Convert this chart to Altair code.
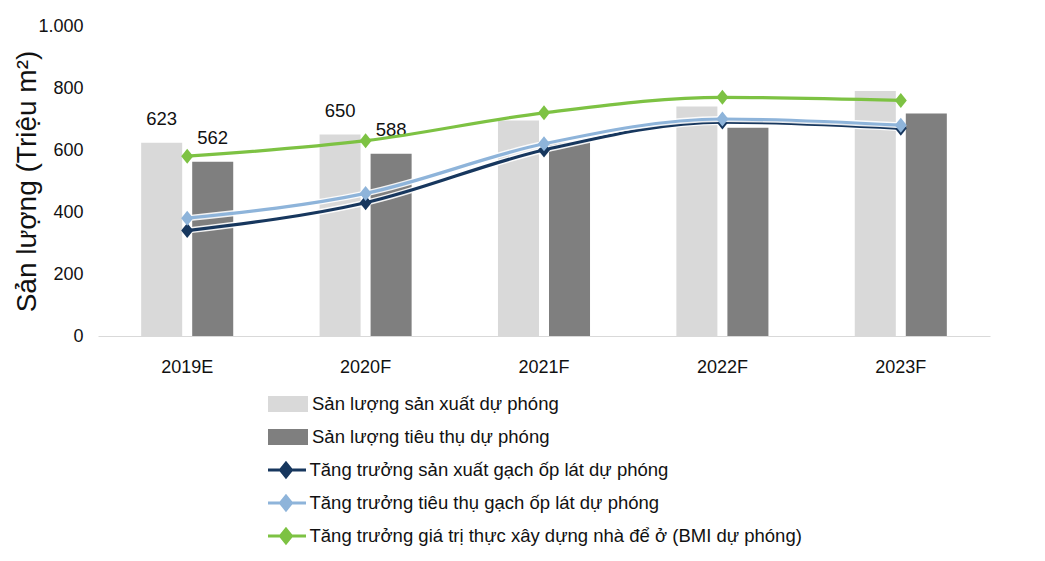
import altair as alt
import pandas as pd

years = ["2019E", "2020F", "2021F", "2022F", "2023F"]

bar_series = ["Sản lượng sản xuất dự phóng", "Sản lượng tiêu thụ dự phóng"]
production = [623, 650, 695, 740, 790]
consumption = [562, 588, 625, 672, 718]
labelled_years = ["2019E", "2020F"]

line_series = [
    "Tăng trưởng sản xuất gạch ốp lát dự phóng",
    "Tăng trưởng tiêu thụ gạch ốp lát dự phóng",
    "Tăng trưởng giá trị thực xây dựng nhà để ở (BMI dự phóng)",
]
prod_growth = [3.4, 4.3, 6.0, 6.9, 6.7]
cons_growth = [3.8, 4.6, 6.2, 7.0, 6.8]
bmi_growth = [5.8, 6.3, 7.2, 7.7, 7.6]

bar_colors = ["#D9D9D9", "#7F7F7F"]
line_colors = ["#17375E", "#8EB4DA", "#7DC243"]

FONT = "Liberation Sans"

bars_df = pd.DataFrame(
    [{"year": y, "series": bar_series[0], "value": v} for y, v in zip(years, production)]
    + [{"year": y, "series": bar_series[1], "value": v} for y, v in zip(years, consumption)]
)
lines_df = pd.DataFrame(
    [{"year": y, "series": s, "value": v}
     for s, vals in zip(line_series, [prod_growth, cons_growth, bmi_growth])
     for y, v in zip(years, vals)]
)

x_enc = alt.X(
    "year:N", sort=years, title=None,
    scale=alt.Scale(paddingInner=0.484, paddingOuter=0.242),
    axis=alt.Axis(labelFont=FONT, labelFontSize=18, labelColor="#111111",
                  labelPadding=22, ticks=False, tickSize=0, domainColor="#D9D9D9",
                  domainWidth=1.2, labelAngle=0, grid=False),
)
x_plain = alt.X("year:N", sort=years, title=None)

xoff = alt.XOffset("series:N", sort=bar_series,
                   scale=alt.Scale(paddingInner=0.196, paddingOuter=0))

y_left = alt.Y(
    "value:Q", title="Sản lượng (Triệu m²)",
    scale=alt.Scale(domain=[0, 1000], nice=False),
    axis=alt.Axis(values=[0, 200, 400, 600, 800, 1000],
                  labelExpr="replace(format(datum.value, ','), ',', '.')",
                  labelFont=FONT, labelFontSize=18, labelColor="#111111",
                  labelPadding=15, ticks=False, tickSize=0, domain=False, grid=False,
                  titleFont=FONT, titleFontSize=28, titleFontWeight="normal",
                  titleColor="#111111", titleBaseline="alphabetic",
                  titleX=-63, titleY=155, titleAngle=270),
)

bar_legend = alt.Legend(
    title=None, orient="none", legendX=170, legendY=361.5, padding=0,
    symbolType="M-2.1,-0.8H2.1V0.8H-2.1Z", symbolSize=400, symbolStrokeWidth=0,
    symbolOffset=9, labelOffset=15, labelFont=FONT, labelFontSize=18.5,
    labelColor="#111111", labelLimit=600, clipHeight=33, rowPadding=0,
)

bars = alt.Chart(bars_df).mark_bar().encode(
    x=x_enc,
    xOffset=xoff,
    y=y_left,
    color=alt.Color("series:N", sort=bar_series,
                    scale=alt.Scale(domain=bar_series, range=bar_colors),
                    legend=bar_legend),
)

labels = alt.Chart(bars_df).transform_filter(
    alt.FieldOneOfPredicate(field="year", oneOf=labelled_years)
).mark_text(font=FONT, fontSize=18.5, color="#111111", baseline="alphabetic", dy=-18).encode(
    x=x_plain,
    xOffset=xoff,
    y=alt.Y("value:Q"),
    text=alt.Text("value:Q"),
)

bar_group = alt.layer(bars, labels)

line_legend = alt.Legend(
    title=None, orient="none", legendX=170, legendY=427.5, padding=0,
    symbolType="M-2,0H2M0,-0.68L0.55,0L0,0.68L-0.55,0Z", symbolSize=400,
    symbolStrokeWidth=3, symbolOffset=6.5, labelOffset=12,
    labelFont=FONT, labelFontSize=18.5, labelColor="#111111", labelLimit=800,
    clipHeight=33, rowPadding=0,
)

y_right_first = alt.Y(
    "value:Q", title=None,
    scale=alt.Scale(domain=[0, 10], nice=False),
    axis=alt.Axis(orient="right", values=[0, 2, 4, 6, 8, 10],
                  labelExpr="datum.value + '%'",
                  labelFont=FONT, labelFontSize=17, labelColor="#111111",
                  labelPadding=13, ticks=False, tickSize=0, domain=False, grid=False),
)
y_right = alt.Y("value:Q", axis=None)

diamond = "M-0.8,0L0,-1L0.8,0L0,1Z"

stroke_enc = alt.Stroke("series:N", sort=line_series,
                        scale=alt.Scale(domain=line_series, range=line_colors),
                        legend=line_legend)
fill_enc = alt.Fill("series:N", sort=line_series,
                    scale=alt.Scale(domain=line_series, range=line_colors),
                    legend=line_legend)

line_layers = []
first = True
for s, col in zip(line_series, line_colors):
    base = alt.Chart(lines_df).transform_filter(alt.datum.series == s)
    yenc = y_right_first if first else y_right
    first = False
    if col != line_colors[2]:
        line_layers.append(
            base.mark_line(interpolate="monotone", strokeWidth=6, color="white", opacity=0.9)
            .encode(x=x_plain, y=y_right)
        )
    line_layers.append(
        base.mark_line(interpolate="monotone", strokeWidth=3.2).encode(
            x=x_plain, y=yenc, stroke=stroke_enc,
        )
    )
    line_layers.append(
        base.mark_point(shape=diamond, size=225, filled=True, opacity=1,
                        strokeWidth=0).encode(x=x_plain, y=y_right, fill=fill_enc)
    )

line_group = alt.layer(*line_layers)

chart = alt.layer(bar_group, line_group).resolve_scale(y="independent").properties(
    width=892, height=310,
    autosize=alt.AutoSizeParams(type="none"),
    padding={"left": 90, "top": 18, "right": 47, "bottom": 212},
).configure_view(strokeWidth=0)

chart.save("out.html", embed_options={"renderer": "svg", "actions": False})
